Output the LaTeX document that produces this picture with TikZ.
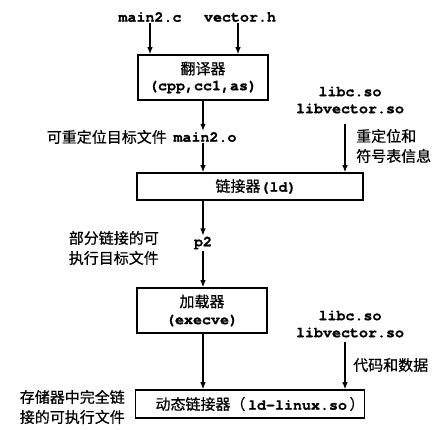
\documentclass[tikz,border=0pt]{standalone}
\usepackage{fontspec}
\newfontfamily\cjk[FakeBold=0.6]{Noto Sans CJK SC}
\newfontfamily\cour[Extension=.otf,UprightFont=*-bold,FakeBold=1]{texgyrecursor}
\usetikzlibrary{arrows.meta}
\newcommand\mtt[1]{{\cour\fontsize{15}{16}\selectfont #1}}
\begin{document}
\begin{tikzpicture}[x=1pt,y=-1pt,
  box/.style={draw,line width=1.6pt,inner sep=0pt,align=center,font=\cjk\fontsize{15}{18}\selectfont},
  mono/.style={font=\cour\fontsize{15}{17}\selectfont,inner sep=1pt,align=center},
  cjklab/.style={font=\cjk\fontsize{15}{20}\selectfont,inner sep=1pt,align=left},
  arr/.style={line width=1.1pt,-{Latex[length=7pt,width=5.5pt]}}]
\useasboundingbox (0,0) rectangle (442,429);
% boxes
\node[box,minimum width=130pt,minimum height=45pt] (trans) at (203,77.5)
  {\raisebox{-5pt}{翻译器}\\[0pt]\raisebox{-3pt}{\mtt{(cpp,cc1,as)}}};
\node[box,minimum width=226pt,minimum height=27pt] (link) at (250,186.5)
  {\hspace*{12pt}\raisebox{-2pt}{链接器\mtt{(ld)}}};
\node[box,minimum width=130pt,minimum height=45pt] (load) at (202,310.5)
  {\raisebox{-4pt}{加载器}\\[0pt]\raisebox{-3pt}{\mtt{(execve)}}};
\node[box,minimum width=226pt,minimum height=28pt] (dyn) at (250,404)
  {\hspace*{20pt}\raisebox{-1pt}{动态链接器（\,\mtt{ld-linux.so}\,）}};
% inputs
\node[mono] (mainc) at (150,17) {main2.c};
\node[mono] (vech) at (240,17) {vector.h};
\draw[arr] (mainc.south) -- (mainc.south |- trans.north);
\draw[arr] (vech.south -| 238,0) -- (238,0 |- trans.north);
% main2.o
\node[mono] (maino) at (205,137) {main2.o};
\node[cjklab,anchor=east] (mainolab) at (168,137) {可重定位目标文件};
\draw[arr] (trans.south) -- (maino.north -| trans.south);
\draw[arr] (maino.south -| trans.south) -- (trans.south |- link.north);
% libs 1
\node[mono] (libs1) at (350,100) {libc.so\\libvector.so};
\coordinate (l1top) at (345,124);
\draw[arr] (l1top) -- (l1top |- link.north);
\node[cjklab,anchor=west] (relab) at (355,146) {重定位和\\符号表信息};
% p2
\node[mono] (p2) at (203,243) {p2};
\node[cjklab,anchor=east] (p2lab) at (160,248) {部分链接的可\\执行目标文件};
\draw[arr] (203,0 |- link.south) -- (p2.north);
\draw[arr] (p2.south) -- (203,0 |- load.north);
% libs 2
\node[mono] (libs2) at (350,324) {libc.so\\libvector.so};
\coordinate (l2top) at (345,342);
\draw[arr] (l2top) -- (l2top |- dyn.north);
\node[cjklab,anchor=west] (codelab) at (352,365) {代码和数据};
\draw[arr] (203,0 |- load.south) -- (203,0 |- dyn.north);
\node[cjklab,anchor=east] (memlab) at (126,407) {存储器中完全链\\接的可执行文件};
\end{tikzpicture}
\end{document}
